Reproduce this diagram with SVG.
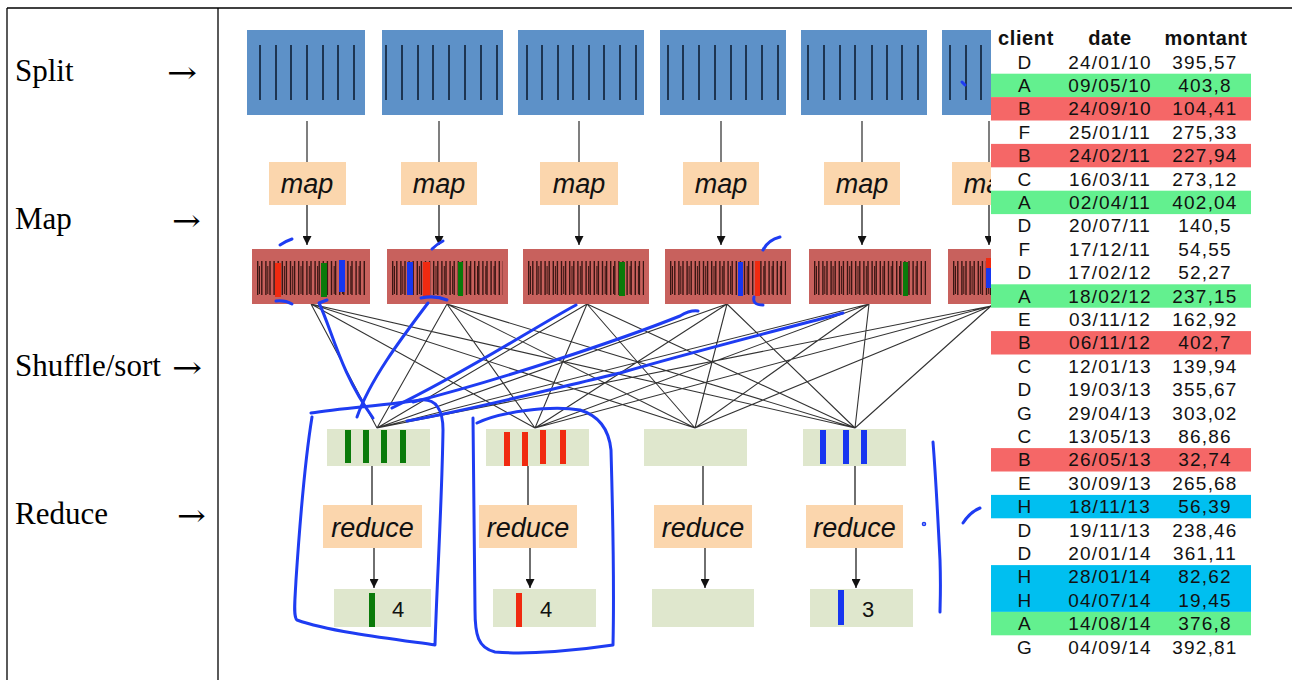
<svg xmlns="http://www.w3.org/2000/svg" width="1292" height="680" viewBox="0 0 1292 680">
<defs>
<marker id="ah" viewBox="0 0 10 10" refX="10" refY="5" markerWidth="9" markerHeight="9" markerUnits="userSpaceOnUse" orient="auto"><path d="M0,0 L10,5 L0,10 z" fill="#111"/></marker>
</defs>
<style>
.lbl{font-family:"Liberation Serif","Times New Roman",serif;font-size:31px;fill:#000}
.arw{font-family:"DejaVu Serif","Liberation Serif",serif;font-size:30px;fill:#000}
.split{fill:#5d91c8}
.sl{stroke:#1d3552;stroke-width:2}
.mapb{fill:#fbd6ad}
.mt{font-family:"Liberation Sans",Arial,sans-serif;font-style:italic;font-size:27px;fill:#111;text-anchor:middle}
.red{fill:#c8615d}
.bc1{stroke:#3a1613;stroke-width:34;stroke-dasharray:1.4 2.7}
.bc2{stroke:#3a1613;stroke-width:28;stroke-dasharray:1 7.3}
.gb{fill:#dfe7cd}
.gc{stroke:#7f7f7f;stroke-width:2}
.ar{stroke:#222;stroke-width:1.3;fill:none}
.sh{stroke:#333;stroke-width:1.1;fill:none}
.bl{stroke:#1e3cf2;stroke-width:3;fill:none;stroke-linecap:round;stroke-linejoin:round}
.tb{font-family:"Liberation Sans",Arial,sans-serif;font-size:19px;letter-spacing:1.2px;fill:#111;text-anchor:middle}
.th{font-weight:bold;font-size:20px;letter-spacing:0.6px}
.num{font-family:"Liberation Sans",Arial,sans-serif;font-size:22px;fill:#111;text-anchor:middle}
.hg{fill:#63f08f}.hr{fill:#f56767}.hc{fill:#00bff0}
</style>
<rect width="1292" height="680" fill="#fff"/>
<g id="frame" stroke="#000" stroke-width="1.3">
<line x1="7" y1="8" x2="1292" y2="8"/><line x1="7" y1="8" x2="7" y2="680"/><line x1="218" y1="8" x2="218" y2="680"/>
</g>
<g id="labels">
<g class="lbl"><text x="15" y="81">Split</text><text x="15" y="229">Map</text><text x="15" y="376">Shuffle/sort</text><text x="15" y="524">Reduce</text></g>
<g class="arw">
<text transform="translate(167,83) scale(1.2,1)">→</text>
<text transform="translate(172,231) scale(1.15,1)">→</text>
<text transform="translate(172,378) scale(1.2,1)">→</text>
<text transform="translate(177,526) scale(1.15,1)">→</text>
</g>
</g>
<g id="connectors">
<g class="gc">
<line x1="307" y1="121" x2="307" y2="162"/><line x1="439" y1="121" x2="439" y2="162"/><line x1="579" y1="121" x2="579" y2="162"/><line x1="721" y1="121" x2="721" y2="162"/><line x1="862" y1="121" x2="862" y2="162"/><line x1="989" y1="121" x2="989" y2="162"/>
</g>
<g class="ar" marker-end="url(#ah)">
<line x1="307" y1="205" x2="307" y2="245"/><line x1="439" y1="205" x2="439" y2="245"/><line x1="579" y1="205" x2="579" y2="245"/><line x1="721" y1="205" x2="721" y2="245"/><line x1="862" y1="205" x2="862" y2="245"/><line x1="989" y1="205" x2="989" y2="245"/>
<line x1="374" y1="548" x2="374" y2="588"/><line x1="530" y1="548" x2="530" y2="588"/><line x1="705" y1="548" x2="705" y2="588"/><line x1="856" y1="548" x2="856" y2="588"/>
</g>
<g class="ar">
<line x1="372" y1="466" x2="372" y2="505"/><line x1="528" y1="466" x2="528" y2="505"/><line x1="703" y1="466" x2="703" y2="505"/><line x1="855" y1="466" x2="855" y2="505"/>
</g>
<path class="sh" d="M311 304L377 428M311 304L535 428M311 304L695 428M311 304L855 428M447 304L377 428M447 304L535 428M447 304L695 428M447 304L855 428M587 304L377 428M587 304L535 428M587 304L695 428M587 304L855 428M727 304L377 428M727 304L535 428M727 304L695 428M727 304L855 428M869 304L377 428M869 304L535 428M869 304L695 428M869 304L855 428M991 306L377 428M991 306L535 428M991 306L695 428M991 306L855 428"/>
</g>
<g id="split1"><rect class="split" x="247" y="30" width="118" height="85"/><path class="sl" d="M260 45V100M276 45V100M291 45V100M307 45V100M323 45V100M338 45V100M354 45V100"/></g>
<g id="split2"><rect class="split" x="382" y="30" width="121" height="85"/><path class="sl" d="M386 45V100M402 45V100M418 45V100M433 45V100M449 45V100M465 45V100M481 45V100M497 45V100"/></g>
<g id="split3"><rect class="split" x="518" y="30" width="126" height="85"/><path class="sl" d="M527 45V100M542 45V100M558 45V100M573 45V100M589 45V100M604 45V100M620 45V100M636 45V100"/></g>
<g id="split4"><rect class="split" x="660" y="30" width="126" height="85"/><path class="sl" d="M668 45V100M683 45V100M699 45V100M715 45V100M731 45V100M746 45V100M762 45V100M778 45V100"/></g>
<g id="split5"><rect class="split" x="801" y="30" width="126" height="85"/><path class="sl" d="M808 45V100M824 45V100M840 45V100M855 45V100M872 45V100M887 45V100M902 45V100M918 45V100"/></g>
<g id="split6"><rect class="split" x="942" y="30" width="60" height="85"/><path class="sl" d="M950 45V100M966 45V100M981 45V100"/></g>
<g id="map1"><rect class="mapb" x="269" y="162" width="77" height="43"/><text class="mt" x="307" y="193">map</text></g>
<g id="map2"><rect class="mapb" x="401" y="162" width="76" height="43"/><text class="mt" x="439" y="193">map</text></g>
<g id="map3"><rect class="mapb" x="540" y="162" width="78" height="43"/><text class="mt" x="579" y="193">map</text></g>
<g id="map4"><rect class="mapb" x="683" y="162" width="76" height="43"/><text class="mt" x="721" y="193">map</text></g>
<g id="map5"><rect class="mapb" x="824" y="162" width="76" height="43"/><text class="mt" x="862" y="193">map</text></g>
<g id="map6"><rect class="mapb" x="952" y="162" width="78" height="43"/><text class="mt" x="990" y="193">map</text></g>
<g id="out1"><rect class="red" x="252" y="249" width="118" height="55"/><line class="bc1" x1="257" y1="278" x2="366" y2="278"/><line class="bc2" x1="259" y1="280" x2="364" y2="280"/><rect x="275" y="263" width="6" height="34" fill="#f02a10"/><rect x="321" y="263" width="6" height="34" fill="#0a7a0a"/><rect x="339" y="260" width="6" height="32" fill="#1736f0"/></g>
<g id="out2"><rect class="red" x="387" y="249" width="121" height="55"/><line class="bc1" x1="392" y1="278" x2="503" y2="278"/><line class="bc2" x1="394" y1="280" x2="501" y2="280"/><rect x="407" y="262" width="6" height="33" fill="#1736f0"/><rect x="423" y="262" width="7" height="34" fill="#f02a10"/><rect x="458" y="262" width="5" height="34" fill="#0a7a0a"/></g>
<g id="out3"><rect class="red" x="523" y="249" width="126" height="55"/><line class="bc1" x1="528" y1="278" x2="644" y2="278"/><line class="bc2" x1="530" y1="280" x2="642" y2="280"/><rect x="619" y="262" width="6" height="34" fill="#0a7a0a"/></g>
<g id="out4"><rect class="red" x="665" y="249" width="126" height="55"/><line class="bc1" x1="670" y1="278" x2="786" y2="278"/><line class="bc2" x1="672" y1="280" x2="784" y2="280"/><rect x="738" y="262" width="5" height="34" fill="#1736f0"/><rect x="755" y="261" width="5" height="35" fill="#f02a10"/></g>
<g id="out5"><rect class="red" x="809" y="249" width="122" height="55"/><line class="bc1" x1="814" y1="278" x2="926" y2="278"/><line class="bc2" x1="816" y1="280" x2="924" y2="280"/><rect x="903" y="262" width="5" height="34" fill="#0a7a0a"/></g>
<g id="out6"><rect class="red" x="948" y="249" width="60" height="55"/><line class="bc1" x1="953" y1="278" x2="1000" y2="278"/><line class="bc2" x1="955" y1="280" x2="1000" y2="280"/><rect x="986" y="258" width="6" height="10" fill="#f02a10"/><rect x="986" y="268" width="6" height="20" fill="#1736f0"/></g>
<g id="in1"><rect class="gb" x="327" y="429" width="103" height="37"/><g fill="#0a7a0a"><rect x="345" y="430" width="6" height="33"/><rect x="363" y="430" width="6" height="33"/><rect x="381" y="430" width="6" height="33"/><rect x="400" y="430" width="6" height="33"/></g></g>
<g id="in2"><rect class="gb" x="486" y="429" width="103" height="37"/><g fill="#f02a10"><rect x="504" y="432" width="6" height="34"/><rect x="522" y="432" width="6" height="34"/><rect x="540" y="430" width="6" height="34"/><rect x="560" y="430" width="6" height="34"/></g></g>
<g id="in3"><rect class="gb" x="644" y="429" width="103" height="37"/></g>
<g id="in4"><rect class="gb" x="803" y="429" width="103" height="37"/><g fill="#1736f0"><rect x="820" y="430" width="6" height="34"/><rect x="843" y="430" width="6" height="34"/><rect x="861" y="430" width="6" height="34"/></g></g>
<g id="reduce1"><rect class="mapb" x="323" y="505" width="99" height="43"/><text class="mt" x="372.5" y="537">reduce</text></g>
<g id="reduce2"><rect class="mapb" x="479" y="505" width="98" height="43"/><text class="mt" x="528" y="537">reduce</text></g>
<g id="reduce3"><rect class="mapb" x="654" y="505" width="98" height="43"/><text class="mt" x="703" y="537">reduce</text></g>
<g id="reduce4"><rect class="mapb" x="806" y="505" width="97" height="43"/><text class="mt" x="854.5" y="537">reduce</text></g>
<g id="res1"><rect class="gb" x="334" y="589" width="97" height="38"/><rect x="369" y="593" width="6" height="34" fill="#0a7a0a"/><text class="num" x="398" y="617">4</text></g>
<g id="res2"><rect class="gb" x="493" y="589" width="103" height="38"/><rect x="516" y="593" width="6" height="34" fill="#f02a10"/><text class="num" x="546" y="617">4</text></g>
<g id="res3"><rect class="gb" x="652" y="589" width="102" height="38"/></g>
<g id="res4"><rect class="gb" x="810" y="589" width="103" height="38"/><rect x="838" y="590" width="6" height="35" fill="#1736f0"/><text class="num" x="868" y="617">3</text></g>
<g id="annotations" class="bl">
<path d="M280 245Q286 241 292 239"/>
<path d="M276 301Q285 300 292 304"/>
<path d="M327 300L319 303C332 330 340 372 373 418"/>
<path d="M428 303C400 340 370 380 357 417"/>
<path d="M421 298Q435 295 447 300"/>
<path d="M432 249Q437 244 443 241"/>
<path d="M576 305C530 330 470 370 392 408"/>
<path d="M698 311Q690 310 680 316C620 340 500 380 413 402"/>
<path d="M843 313C760 335 700 350 620 373C540 392 470 410 407 421"/>
<path d="M311 413C340 408 390 405 420 400C436 398 443 410 443 430C442 500 437 580 435 645C400 640 330 632 297 620C293 617 295 600 296 580C300 520 305 460 312 417"/>
<path d="M477 423C500 412 550 405 580 410C600 416 609 430 611 450C613 520 614 600 613 645C580 650 530 655 495 652C478 648 475 635 475 610C474 540 473 470 473 418"/>
<path d="M933 442C936 480 938 520 940 560C941 590 940 605 940 612"/>
<circle cx="924" cy="524" r="0.8"/>
<path d="M963 523Q970 512 980 508"/>
<path d="M763 250Q768 240 780 237"/>
<path d="M754 297Q752 305 763 305"/>
<path d="M962 82L965 85"/>
</g>
<g id="table">
<rect x="991" y="22" width="301" height="658" fill="#fff"/>
<rect class="hg" x="991" y="73.7" width="260" height="23.4"/>
<rect class="hr" x="991" y="97.1" width="260" height="23.4"/>
<rect class="hr" x="991" y="143.9" width="260" height="23.4"/>
<rect class="hg" x="991" y="190.7" width="260" height="23.4"/>
<rect class="hg" x="991" y="284.3" width="260" height="23.4"/>
<rect class="hr" x="991" y="331.1" width="260" height="23.4"/>
<rect class="hr" x="991" y="448.1" width="260" height="23.4"/>
<rect class="hc" x="991" y="494.9" width="260" height="23.4"/>
<rect class="hc" x="991" y="565.1" width="260" height="46.8"/>
<rect class="hg" x="991" y="611.9" width="260" height="23.4"/>
<g class="tb th"><text x="1026" y="45">client</text><text x="1110" y="45">date</text><text x="1206" y="45">montant</text></g>
<g class="tb">
<text x="1025" y="68.5">D</text><text x="1110" y="68.5">24/01/10</text><text x="1205" y="68.5">395,57</text>
<text x="1025" y="91.9">A</text><text x="1110" y="91.9">09/05/10</text><text x="1205" y="91.9">403,8</text>
<text x="1025" y="115.3">B</text><text x="1110" y="115.3">24/09/10</text><text x="1205" y="115.3">104,41</text>
<text x="1025" y="138.7">F</text><text x="1110" y="138.7">25/01/11</text><text x="1205" y="138.7">275,33</text>
<text x="1025" y="162.1">B</text><text x="1110" y="162.1">24/02/11</text><text x="1205" y="162.1">227,94</text>
<text x="1025" y="185.5">C</text><text x="1110" y="185.5">16/03/11</text><text x="1205" y="185.5">273,12</text>
<text x="1025" y="208.9">A</text><text x="1110" y="208.9">02/04/11</text><text x="1205" y="208.9">402,04</text>
<text x="1025" y="232.3">D</text><text x="1110" y="232.3">20/07/11</text><text x="1205" y="232.3">140,5</text>
<text x="1025" y="255.7">F</text><text x="1110" y="255.7">17/12/11</text><text x="1205" y="255.7">54,55</text>
<text x="1025" y="279.1">D</text><text x="1110" y="279.1">17/02/12</text><text x="1205" y="279.1">52,27</text>
<text x="1025" y="302.5">A</text><text x="1110" y="302.5">18/02/12</text><text x="1205" y="302.5">237,15</text>
<text x="1025" y="325.9">E</text><text x="1110" y="325.9">03/11/12</text><text x="1205" y="325.9">162,92</text>
<text x="1025" y="349.3">B</text><text x="1110" y="349.3">06/11/12</text><text x="1205" y="349.3">402,7</text>
<text x="1025" y="372.7">C</text><text x="1110" y="372.7">12/01/13</text><text x="1205" y="372.7">139,94</text>
<text x="1025" y="396.1">D</text><text x="1110" y="396.1">19/03/13</text><text x="1205" y="396.1">355,67</text>
<text x="1025" y="419.5">G</text><text x="1110" y="419.5">29/04/13</text><text x="1205" y="419.5">303,02</text>
<text x="1025" y="442.9">C</text><text x="1110" y="442.9">13/05/13</text><text x="1205" y="442.9">86,86</text>
<text x="1025" y="466.3">B</text><text x="1110" y="466.3">26/05/13</text><text x="1205" y="466.3">32,74</text>
<text x="1025" y="489.7">E</text><text x="1110" y="489.7">30/09/13</text><text x="1205" y="489.7">265,68</text>
<text x="1025" y="513.1">H</text><text x="1110" y="513.1">18/11/13</text><text x="1205" y="513.1">56,39</text>
<text x="1025" y="536.5">D</text><text x="1110" y="536.5">19/11/13</text><text x="1205" y="536.5">238,46</text>
<text x="1025" y="559.9">D</text><text x="1110" y="559.9">20/01/14</text><text x="1205" y="559.9">361,11</text>
<text x="1025" y="583.3">H</text><text x="1110" y="583.3">28/01/14</text><text x="1205" y="583.3">82,62</text>
<text x="1025" y="606.7">H</text><text x="1110" y="606.7">04/07/14</text><text x="1205" y="606.7">19,45</text>
<text x="1025" y="630.1">A</text><text x="1110" y="630.1">14/08/14</text><text x="1205" y="630.1">376,8</text>
<text x="1025" y="653.5">G</text><text x="1110" y="653.5">04/09/14</text><text x="1205" y="653.5">392,81</text>
</g>
</g>
</svg>
